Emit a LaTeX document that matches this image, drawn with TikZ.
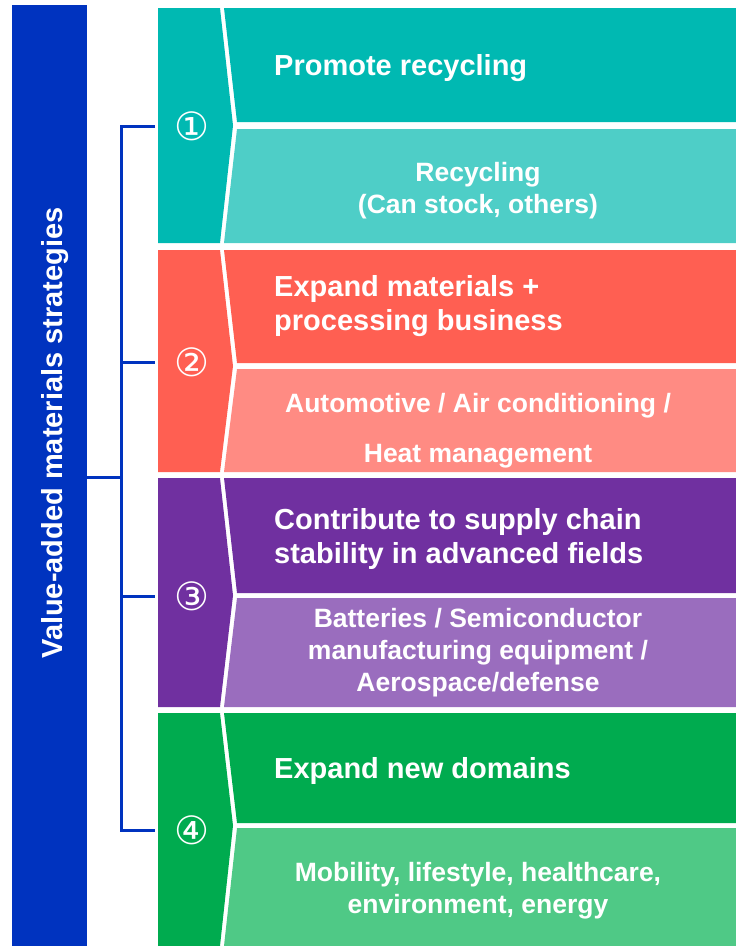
\documentclass[tikz,border=0pt]{standalone}
\usepackage{fontspec}
\setmainfont{Liberation Sans}
\newfontfamily\circfont{DejaVu Sans}
\usetikzlibrary{calc}

\definecolor{barblue}{HTML}{0033BF}
\definecolor{tealdark}{HTML}{00B9B2}
\definecolor{teallight}{HTML}{4ECEC7}
\definecolor{reddark}{HTML}{FF5F52}
\definecolor{redlight}{HTML}{FF8B83}
\definecolor{purpledark}{HTML}{7030A0}
\definecolor{purplelight}{HTML}{9A6DBE}
\definecolor{greendark}{HTML}{00AB4F}
\definecolor{greenlight}{HTML}{4FC986}

\tikzstyle{bar} = [rectangle, fill=barblue, minimum width=75pt, minimum height=941pt,
  inner sep=0pt]
\tikzstyle{bartext} = [text=white, font=\bfseries\fontsize{29}{33}\selectfont, inner sep=0pt]
\tikzstyle{headtext} = [anchor=west, align=left, text=white,
  font=\bfseries\fontsize{29}{34}\selectfont, inner sep=0pt]
\tikzstyle{subtext} = [align=center, text=white,
  font=\bfseries\fontsize{26.5}{32}\selectfont, inner sep=0pt]
\tikzstyle{numtext} = [text=white, font=\circfont\fontsize{39}{39}\selectfont, inner sep=0pt]
\tikzstyle{bracket} = [draw=barblue, line width=3pt, line join=miter]

\begin{document}
\begin{tikzpicture}[x=1pt, y=-1pt]
  \useasboundingbox (0,0) rectangle (736,946);

  \node [bar] (bar) at (49.5,475.5) {};
  \node [bartext, rotate=90, anchor=base] (barlabel) at (62,433) {Value-added materials strategies};

  % group 1
  \fill [tealdark] (158,8) -- (220,8) -- (233,125.5) -- (220,243) -- (158,243) -- cycle;
  \fill [tealdark] (224,8) -- (736,8) -- (736,122) -- (237,122) -- cycle;
  \fill [teallight] (237,129) -- (736,129) -- (736,243) -- (224,243) -- cycle;
  % group 2
  \fill [reddark] (158,250) -- (220,250) -- (233,366) -- (220,472) -- (158,472) -- cycle;
  \fill [reddark] (224,250) -- (736,250) -- (736,363) -- (237,363) -- cycle;
  \fill [redlight] (237,369) -- (736,369) -- (736,472) -- (224,472) -- cycle;
  % group 3
  \fill [purpledark] (158,478) -- (220,478) -- (233,595.5) -- (220,707) -- (158,707) -- cycle;
  \fill [purpledark] (224,478) -- (736,478) -- (736,593) -- (237,593) -- cycle;
  \fill [purplelight] (237,598) -- (736,598) -- (736,707) -- (224,707) -- cycle;
  % group 4
  \fill [greendark] (158,713) -- (220,713) -- (233,825.5) -- (220,946) -- (158,946) -- cycle;
  \fill [greendark] (224,713) -- (736,713) -- (736,823) -- (237,823) -- cycle;
  \fill [greenlight] (237,828) -- (736,828) -- (736,946) -- (224,946) -- cycle;

  \node [numtext] (num1) at (192,126) {①};
  \node [numtext] (num2) at (192,362) {②};
  \node [numtext] (num3) at (192,596) {③};
  \node [numtext] (num4) at (192,830) {④};

  \node [headtext] (head1) at (274,68) {Promote recycling};
  \node [headtext] (head2) at (274,306.5) {Expand materials +\\processing business};
  \node [headtext] (head3) at (274,539) {Contribute to supply chain\\stability in advanced fields};
  \node [headtext] (head4) at (274,771) {Expand new domains};

  \node [subtext] (sub1) at (478,190.5) {Recycling\\(Can stock, others)};
  \node [subtext, font=\bfseries\fontsize{26.5}{50}\selectfont] (sub2) at (478,431)
    {Automotive / Air conditioning /\\Heat management};
  \node [subtext] (sub3) at (478,652.5) {Batteries / Semiconductor\\manufacturing equipment /\\Aerospace/defense};
  \node [subtext] (sub4) at (478,891) {Mobility, lifestyle, healthcare,\\environment, energy};

  \coordinate (spine) at (121,477);
  \coordinate (tick1) at (155,126);
  \coordinate (tick2) at (155,362);
  \coordinate (tick3) at (155,596);
  \coordinate (tick4) at (155,830);

  \path [bracket] (bar.east |- spine) -- (spine);
  \path [bracket] (tick1) -| (spine) |- (tick4);
  \path [bracket] (spine |- tick2) -- (tick2);
  \path [bracket] (spine |- tick3) -- (tick3);

\end{tikzpicture}
\end{document}
